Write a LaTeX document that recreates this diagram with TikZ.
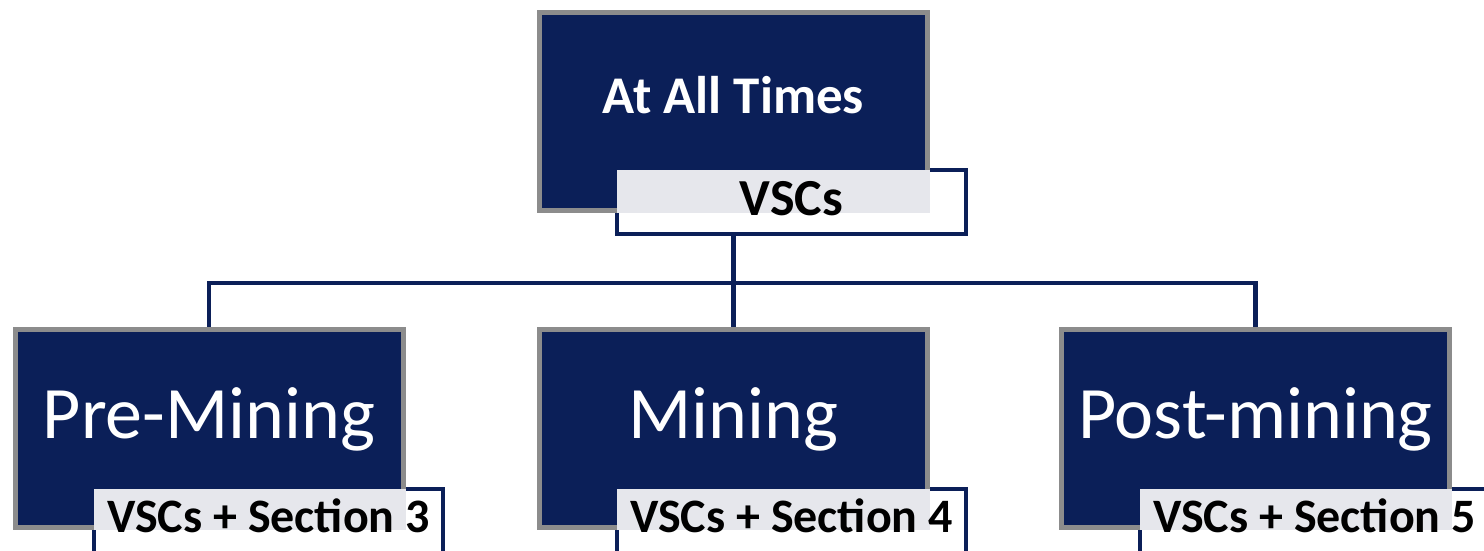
\documentclass[tikz,border=0pt]{standalone}
\usepackage{fontspec}
\setmainfont{Carlito}
\definecolor{navy}{RGB}{11,31,88}
\definecolor{boxgrey}{RGB}{140,140,140}
\definecolor{overlapgrey}{RGB}{230,231,236}
\pgfdeclarelayer{bg}
\pgfdeclarelayer{mid}
\pgfsetlayers{bg,mid,main}
\tikzset{
  bigbox/.style={draw=boxgrey, line width=5pt, fill=navy, text=white,
    minimum width=388pt, minimum height=198pt, inner sep=0pt},
  phase/.style={bigbox, font=\fontsize{74}{80}\selectfont, text height=47pt, text depth=28pt},
  topbox/.style={bigbox, font=\bfseries\fontsize{53}{60}\selectfont, text height=33pt, text depth=30pt},
  labeltext/.style={minimum width=348.5pt, minimum height=63.5pt, inner sep=0pt, text=black},
  toplabel/.style={labeltext, font=\bfseries\fontsize{52}{60}\selectfont, text height=32pt, text depth=6pt},
  sublabel/.style={labeltext, font=\bfseries\fontsize{48}{54}\selectfont, text height=31pt, text depth=9pt},
  labelframe/.style={draw=navy, line width=4.5pt, fill=white},
  overlap/.style={fill=overlapgrey},
  conn/.style={draw=navy, line width=4.5pt}
}
\begin{document}
\begin{tikzpicture}[x=1pt,y=-1pt]
\useasboundingbox (0,0) rectangle (1484,550);
% big boxes
\begin{pgfonlayer}{mid}
\node[topbox] (top) at (733.5,111.5) {At All Times};
\node[phase] (pre) at (209,428.5) {Pre-Mining};
\node[phase] (mining) at (733.5,428.5) {Mining};
\node[phase] (post) at (1255.5,428.5) {Post-mining};
\end{pgfonlayer}
% label texts
\node[toplabel] (topl) at (791.5,202) {VSCs};
\node[sublabel] (prel) at (268.5,521) {VSCs + Section 3};
\node[sublabel] (miningl) at (791.5,521) {VSCs + Section 4};
\node[sublabel] (postl) at (1314.5,521) {VSCs + Section 5};
% label frames and connectors
\begin{pgfonlayer}{bg}
\coordinate (j) at (733.5,283);
\draw[conn] (top.south |- topl.south) -- (j);
\draw[conn] (j) -| (pre.north);
\draw[conn] (j) -- (mining.north);
\draw[conn] (j) -| (post.north);
\draw[labelframe] (topl.north west) rectangle (topl.south east);
\draw[labelframe] (prel.north west) rectangle (prel.south east);
\draw[labelframe] (miningl.north west) rectangle (miningl.south east);
\draw[labelframe] (postl.north west) rectangle (postl.south east);
\end{pgfonlayer}
% overlap of labels with boxes
\begin{pgfonlayer}{mid}
\fill[overlap] (topl.north west) rectangle (top.south east);
\fill[overlap] (prel.north west) rectangle (pre.south east);
\fill[overlap] (miningl.north west) rectangle (mining.south east);
\fill[overlap] (postl.north west) rectangle (post.south east);
\end{pgfonlayer}
\end{tikzpicture}
\end{document}
